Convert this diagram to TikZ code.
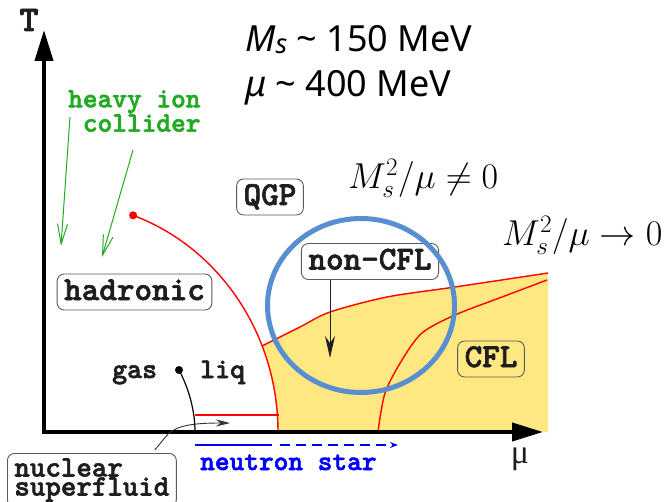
\RequirePackage{fix-cm}
\documentclass[tikz,border=0pt]{standalone}
\usepackage{fontspec}
\usepackage{tikz}
\usetikzlibrary{arrows.meta}
\newfontfamily\notefont{Noto Sans}
\newfontfamily\greekserif{Liberation Serif}
\newfontfamily\slabfont{lmmonolt10-bold.otf}[FakeBold=2]
\definecolor{cflyellow}{RGB}{255,231,130}
\definecolor{ringblue}{RGB}{88,143,208}
\definecolor{iongreen}{RGB}{34,170,34}
\definecolor{boxline}{RGB}{90,90,90}
\definecolor{inkdark}{RGB}{30,30,30}

\begin{document}
\begin{tikzpicture}[
        x=1pt, y=1pt,
        boxed/.style={draw=boxline, line width=0.9pt, rounded corners=7pt, text=inkdark, inner xsep=7pt},
        phase/.style={boxed, font=\fontsize{33.5}{34}\slabfont, inner ysep=6pt, text height=20pt, text depth=4pt},
        tag/.style={font=\fontsize{28.5}{25}\slabfont, text=inkdark, inner sep=0pt},
        boundary/.style={red, line width=1.4pt},
        axis/.style={line width=4pt, {Triangle[length=31pt,width=18pt]}-{Triangle[length=31pt,width=18pt]}},
        collide/.style={iongreen, line width=1pt, -{Straight Barb[length=20pt,width=10pt]}},
        nsline/.style={blue, line width=2.2pt},
        bigtext/.style={anchor=base west, inner sep=0pt, font=\fontsize{36}{36}\notefont}
    ]
        \fill[white] (0,0) rectangle (671,501);
        \useasboundingbox (0,0) rectangle (671,501);

        % colour-flavour locked region
        \fill[cflyellow] plot[smooth] coordinates {(262,155) (300,174) (330,189) (387,204) (455,214) (548,228)}
            -- (548,69) -- (278,69) arc[start angle=0, end angle=22, x radius=218, y radius=230] -- cycle;

        % phase boundaries
        \draw[boundary] plot[smooth] coordinates {(262,155) (300,174) (330,189) (387,204) (455,214) (548,228)};
        \draw[boundary] plot[smooth] coordinates {(378,69) (385,108) (402,141) (422,168) (455,186) (502,204) (547,221)};
        \draw[boundary] (278,69) arc[start angle=0, end angle=70.4, x radius=218, y radius=230] coordinate (crit);
        \fill[red] (crit) circle (4);
        \draw[boundary] (195,86) -- (279,86);

        % axes
        \coordinate (Ttip) at (44,471);
        \coordinate (Mutip) at (543,69);
        \draw[axis] (Ttip) |- (Mutip);
        \node[font=\fontsize{36}{36}\slabfont, text=inkdark] (Tlab) at (29,481) {T};
        \node[font=\fontsize{34}{34}\greekserif, text=inkdark] (mulab) at (520,42) {μ};

        % phases
        \node[phase] (hadronic) at (134.5,209) {hadronic};
        \node[phase] (qgp) at (270,304) {QGP};
        \node[phase] (noncfl) at (370,239.5) {non-CFL};
        \node[phase] (cfl) at (491,142) {CFL};
        \node[boxed, font=\fontsize{29.5}{19}\slabfont, align=left, anchor=north west, inner ysep=5pt] (nsf) at (7,48) {nuclear\\superfluid};

        % heavy ion collisions
        \node[tag, text=iongreen, font=\fontsize{28}{23}\slabfont, align=left, anchor=north west] (hic) at (68,411) {heavy ion\\\hphantom{x}collider};
        \coordinate (hicA) at (70,384);
        \coordinate (hicAtip) at (61,255);
        \coordinate (hicB) at (133,351);
        \coordinate (hicBtip) at (102,244);
        \draw[collide] (hicA) -- (hicAtip);
        \draw[collide] (hicB) -- (hicBtip);

        % arrow into non-CFL
        \coordinate (nctip) at (330,143);
        \draw[inkdark, line width=1pt, -{Stealth[length=22pt,width=10pt]}] (noncfl.south -| nctip) -- (nctip);

        % nuclear gas-liquid
        \node[tag, anchor=base west] (gas) at (112,123) {gas};
        \node[tag, anchor=base west] (liq) at (200,123) {liq};
        \coordinate (glcrit) at (179,131);
        \fill (glcrit) circle (4);
        \draw[line width=1.2pt] (glcrit) .. controls (186,118) and (195,95) .. (195,69);

        \coordinate (nsftip) at (230,78);
        \draw[black!80, line width=0.9pt, -{Stealth[length=14pt,width=7pt]}]
            ([xshift=-22pt,yshift=3pt]nsf.north east) -- (168,67) .. controls (178,76) and (195,78) .. (nsftip);

        % neutron star
        \coordinate (nsA) at (195,56);
        \coordinate (nsB) at (272,56);
        \coordinate (nsC) at (280,56);
        \coordinate (nsD) at (398,56);
        \draw[nsline] (nsA) -- (nsB);
        \draw[nsline, dash pattern=on 10pt off 6pt, -{Stealth[length=8pt,width=6pt]}] (nsC) -- (nsD);
        \node[tag, text=blue, font=\fontsize{28}{23}\slabfont, anchor=base west] (nstar) at (200,31) {neutron star};

        % parameter values
        \node[bigtext] (msval) at (245,449) {\textit{M}\raisebox{-2pt}{\fontsize{27}{27}\selectfont\textit{s}} \textasciitilde{} 150 MeV};
        \node[bigtext] (muval) at (245,404) {\textit{μ} \textasciitilde{} 400 MeV};
        \node[anchor=base west, inner sep=0pt, font=\fontsize{36}{36}\selectfont] (nonzero) at (348,312) {$M_s^2/\mu\neq0$};
        \node[anchor=base west, inner sep=0pt, font=\fontsize{36}{36}\selectfont] (tozero) at (502,255) {$M_s^2/\mu\to0$};

        \draw[ringblue, line width=5pt] (361,195.5) ellipse[x radius=93.5, y radius=87];
    \end{tikzpicture}
\end{document}
